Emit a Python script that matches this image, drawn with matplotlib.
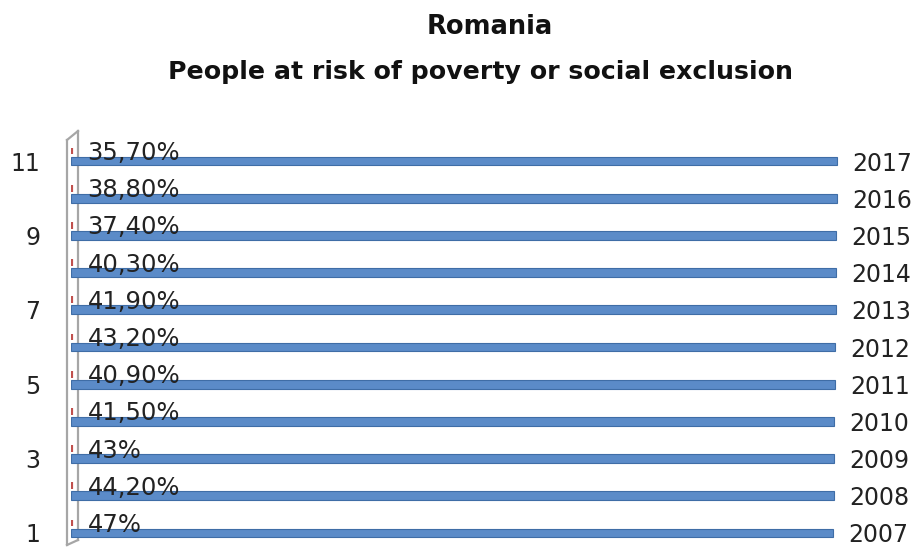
import matplotlib
matplotlib.use("Agg")
import matplotlib.pyplot as plt
from matplotlib.lines import Line2D

years = [2007, 2008, 2009, 2010, 2011, 2012, 2013, 2014, 2015, 2016, 2017]
pct_values = [47.0, 44.2, 43.0, 41.5, 40.9, 43.2, 41.9, 40.3, 37.4, 38.8, 35.7]
pct_labels = ["47%", "44,20%", "43%", "41,50%", "40,90%", "43,20%",
              "41,90%", "40,30%", "37,40%", "38,80%", "35,70%"]
positions = list(range(1, len(years) + 1))
ytick_values = [1, 3, 5, 7, 9, 11]
title_line1 = "Romania"
title_line2 = "People at risk of poverty or social exclusion"

W, H = 919, 547
fig = plt.figure(figsize=(W / 100, H / 100), dpi=100)
fig.patch.set_facecolor("white")

ax_left, ax_right, ax_top, ax_bottom = 71, 842, 135, 545
ax = fig.add_axes([ax_left / W, (H - ax_bottom) / H,
                   (ax_right - ax_left) / W, (ax_bottom - ax_top) / H])
ax.patch.set_alpha(0)

blue = "#5B8BC8"
blue_edge = "#3F6DA6"
red = "#C0504D"

ax.barh(positions, years, height=0.24, color=blue, edgecolor=blue_edge,
        linewidth=0.8, zorder=3)
ax.barh([p + 0.27 for p in positions], [v / 100 for v in pct_values],
        height=0.18, color=red, edgecolor=red, linewidth=3.0, zorder=3)

ax.set_xlim(0, 2030)
ax.set_ylim(0.677, 11.70)
ax.set_xticks([])
ax.set_yticks(ytick_values)
ax.set_yticklabels([str(v) for v in ytick_values])
ax.tick_params(axis="y", length=0, pad=22, labelsize=17, labelcolor="#222222")
for s in ax.spines.values():
    s.set_visible(False)

for p, lab in zip(positions, pct_labels):
    ax.annotate(lab, xy=(0, p), xytext=(12, 5.8), textcoords="offset points",
                ha="left", va="center", fontsize=17.5, color="#222222", zorder=5)
for p, y in zip(positions, years):
    ax.annotate(str(y), xy=(y, p), xytext=(11, -1.8), textcoords="offset points",
                ha="left", va="center", fontsize=17, color="#222222",
                annotation_clip=False)

# 3D wall outline (figure pixel coordinates)
def fx(x):
    return x / W

def fy(y):
    return 1 - y / H

wall_color = "#A6A6A6"
for xs, ys in [([67, 67], [140, 545]), ([78, 78], [131, 540]),
               ([67, 78], [140, 131]), ([67, 78], [545, 540])]:
    fig.add_artist(Line2D([fx(x) for x in xs], [fy(y) for y in ys],
                          color=wall_color, linewidth=1.6, zorder=-1))

fig.text(490 / W, fy(27), title_line1, ha="center", va="center",
         fontsize=18.5, fontweight="bold", color="#111111")
fig.text(480 / W, fy(72), title_line2, ha="center", va="center",
         fontsize=18.2, fontweight="bold", color="#111111")

fig.savefig("out.png", dpi=100)
